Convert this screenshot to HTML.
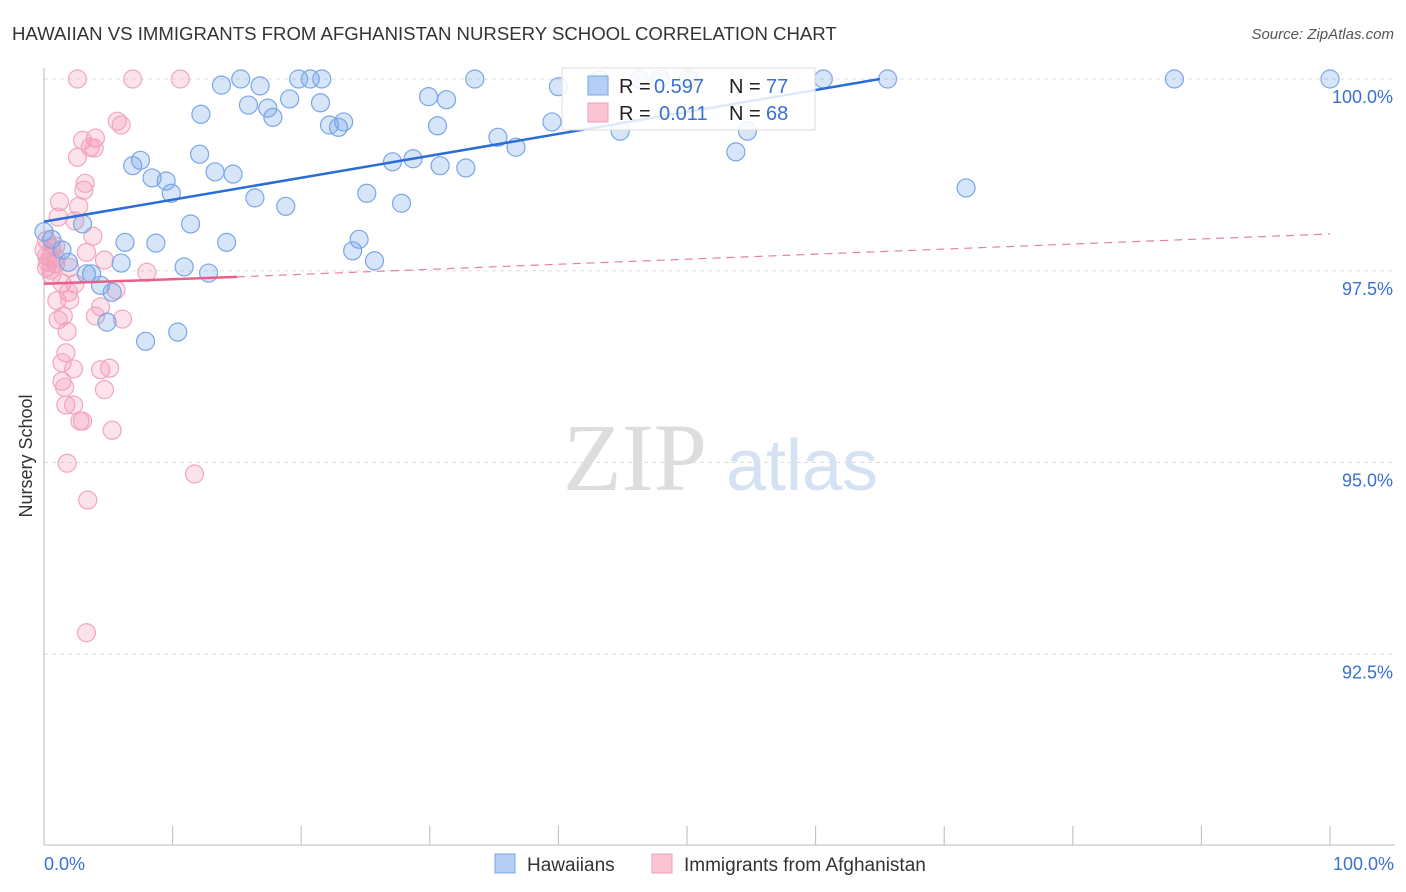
<!DOCTYPE html>
<html><head><meta charset="utf-8"><style>
body{margin:0;background:#fff;font-family:"Liberation Sans",sans-serif}
svg{display:block}
</style></head><body>
<svg id="c" width="1406" height="892" xmlns="http://www.w3.org/2000/svg">
<text x="12" y="40" font-size="18.6" fill="#333">HAWAIIAN VS IMMIGRANTS FROM AFGHANISTAN NURSERY SCHOOL CORRELATION CHART</text>
<text x="1394" y="39" font-size="15" fill="#555" text-anchor="end" font-style="italic">Source: ZipAtlas.com</text>
<text x="32" y="456" font-size="18" fill="#333" text-anchor="middle" transform="rotate(-90 32 456)">Nursery School</text>
<g><text x="635" y="490" font-size="96" fill="#ddd" text-anchor="middle" font-family="Liberation Serif,serif">ZIP</text><text x="802" y="490" font-size="72" fill="#d4e2f4" text-anchor="middle">atlas</text></g>
<g id="grid"></g><g id="pts"></g><g id="lines"></g>
<g>
<rect x="562" y="68" width="253" height="62" fill="#fff" fill-opacity="0.85" stroke="#ddd"/>
<rect x="588" y="76" width="20" height="19" fill="#b4cff3" stroke="#7aa6e6"/>
<rect x="588" y="103" width="20" height="19" fill="#fac5d3" stroke="#f0a0b8"/>
<text x="619" y="93" font-size="20" fill="#222">R =</text>
<text x="654" y="93" font-size="20" fill="#3a70d0">0.597</text>
<text x="729" y="93" font-size="20" fill="#222">N =</text>
<text x="766" y="93" font-size="20" fill="#3a70d0">77</text>
<text x="619" y="120" font-size="20" fill="#222">R =</text>
<text x="659" y="120" font-size="20" fill="#3a70d0">0.011</text>
<text x="729" y="120" font-size="20" fill="#222">N =</text>
<text x="766" y="120" font-size="20" fill="#3a70d0">68</text>
</g>
<g>
<rect x="495" y="854" width="20" height="19" fill="#b4cff3" stroke="#7aa6e6"/>
<text x="527" y="871" font-size="19" fill="#333">Hawaiians</text>
<rect x="652" y="854" width="20" height="19" fill="#fac5d3" stroke="#f0a0b8"/>
<text x="684" y="871" font-size="19" fill="#333">Immigrants from Afghanistan</text>
</g>
</svg>
<script>
const yTicks=[100,97.5,95,92.5];
const yTickLabels=["100.0%","97.5%","95.0%","92.5%"];
const xTickLabels=["0.0%","100.0%"];
const blueX=[15.3,19.8,20.7,21.6,33.5,40.0,47.9,50.1,60.6,65.6,87.9,100,13.8,16.8,12.2,15.9,17.4,17.8,19.1,21.5,22.2,22.9,23.3,29.9,31.3,30.6,35.3,36.7,39.5,44.8,54.7,53.8,6.9,7.5,8.4,9.5,9.9,12.1,13.3,14.7,16.4,18.8,25.1,27.1,28.7,30.8,32.8,27.8,71.7,3.0,6.3,8.7,11.4,14.2,24.0,24.5,25.7,10.9,12.8,6.0,3.7,3.3,4.4,5.3,4.9,7.9,10.4,0,0.6,1.4,1.9,43.2,46.3];
const blueY=[100,100,100,100,100,99.9,100,100,100,100,100,100,99.92,99.91,99.54,99.66,99.62,99.50,99.74,99.69,99.40,99.37,99.44,99.77,99.73,99.39,99.24,99.11,99.44,99.32,99.32,99.05,98.87,98.94,98.71,98.67,98.51,99.02,98.79,98.76,98.45,98.34,98.51,98.92,98.96,98.87,98.84,98.38,98.58,98.11,97.87,97.86,98.11,97.87,97.76,97.91,97.63,97.55,97.47,97.60,97.46,97.46,97.31,97.22,96.83,96.58,96.70,98.01,97.91,97.77,97.61,99.99,100];
const pinkX=[2.6,6.9,10.6,5.7,6.0,4.0,3.0,3.6,2.6,3.9,3.1,3.2,2.7,1.2,1.1,2.4,0.2,0.9,3.8,3.3,4.7,8.0,2.0,0.5,0.9,0.2,0.6,1.4,2.4,1.9,5.6,1.0,2.0,4.4,4.0,6.1,1.1,1.5,1.8,1.7,1.4,2.3,4.4,5.1,1.4,1.6,4.7,1.7,2.3,2.8,3.0,5.3,1.8,11.7,3.4,3.3,0,0.2,0.3,0.5,0.6,0.9];
const pinkY=[100,100,100,99.45,99.40,99.23,99.20,99.11,98.98,99.10,98.55,98.64,98.34,98.40,98.20,98.15,97.90,97.82,97.95,97.74,97.64,97.48,97.54,97.67,97.59,97.54,97.44,97.34,97.33,97.22,97.25,97.11,97.12,97.03,96.91,96.87,96.86,96.91,96.71,96.43,96.30,96.22,96.21,96.23,96.06,95.98,95.95,95.75,95.75,95.54,95.54,95.42,94.99,94.85,94.51,92.78,97.77,97.69,97.61,97.51,97.80,97.67];
const blueTrend=[[0,98.14],[65,100]];
const pinkTrend=[[0,97.33],[15,97.42],[100,97.98]];
const NS="http://www.w3.org/2000/svg";
const sx=v=>44+v*12.86, sy=v=>79+(100-v)*76.7;
function mk(t,a,p){const e=document.createElementNS(NS,t);for(const k in a)e.setAttribute(k,a[k]);p.appendChild(e);return e;}
const g=document.getElementById('grid');
yTicks.forEach((t,i)=>{
 const l=mk('line',{x1:44,x2:1395,y1:sy(t),y2:sy(t),stroke:'#ddd','stroke-dasharray':'4,4'},g);
 
 
 const tx=mk('text',{x:1393,y:sy(t)+24,'font-size':18,fill:'#3a70d0','text-anchor':'end'},g);
 tx.textContent=yTickLabels[i];
 
 
});
const ax=mk('line',{x1:44,x2:44,y1:68,y2:845,stroke:'#bbb'},g);


const bx=mk('line',{x1:44,x2:1395,y1:845,y2:845,stroke:'#bbb'},g);


for(let i=0;i<=10;i++){const tk=mk('line',{x1:sx(i*10),x2:sx(i*10),y1:826,y2:845,stroke:'#bbb'},g);
 
 }
[[0,'start',44],[1,'end',1394]].forEach(([i,a,x])=>{const t=mk('text',{x:x,y:870,'font-size':18,fill:'#3a70d0','text-anchor':a},g);t.textContent=xTickLabels[i];
 
 });
const P=document.getElementById('pts');
pinkX.forEach((x,i)=>{const c=mk('circle',{cx:sx(x),cy:sy(pinkY[i]),r:9,fill:'rgba(244,150,180,0.28)',stroke:'#f2a6bd','stroke-width':1.2},P);
 
 });
blueX.forEach((x,i)=>{const c=mk('circle',{cx:sx(x),cy:sy(blueY[i]),r:9,fill:'rgba(110,160,230,0.28)',stroke:'#7aa6e6','stroke-width':1.2},P);
 
 });
const L=document.getElementById('lines');
const b=mk('line',{x1:sx(blueTrend[0][0]),y1:sy(blueTrend[0][1]),x2:sx(blueTrend[1][0]),y2:sy(blueTrend[1][1]),stroke:'#2a6dd6','stroke-width':2.5},L);


const p1=mk('line',{x1:sx(pinkTrend[0][0]),y1:sy(pinkTrend[0][1]),x2:sx(pinkTrend[1][0]),y2:sy(pinkTrend[1][1]),stroke:'#e8608a','stroke-width':2.5},L);


const p2=mk('line',{x1:sx(pinkTrend[1][0]),y1:sy(pinkTrend[1][1]),x2:sx(pinkTrend[2][0]),y2:sy(pinkTrend[2][1]),stroke:'#e8809f','stroke-width':1.2,'stroke-dasharray':'8,6'},L);


</script>
</body></html>
